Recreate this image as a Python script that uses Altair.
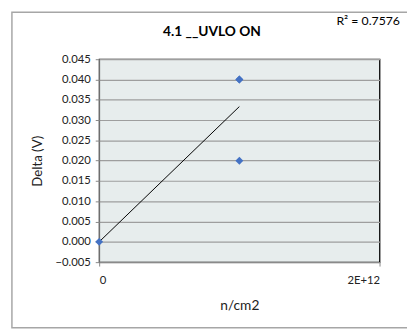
import altair as alt
import pandas as pd

# data
fluence = [0, 1e12, 1e12, 1e12]
delta = [0.0, 0.04, 0.04, 0.02]
y_ticks = [-0.005, 0.0, 0.005, 0.010, 0.015, 0.020, 0.025, 0.030, 0.035, 0.040, 0.045]
x_ticks = [0, 2e12]
title_text = "4.1 __UVLO ON"
r2_text = "R\u00b2 = 0.7576"

df = pd.DataFrame({"x": fluence, "y": delta})
FONT = "Lato"

xs = alt.X("x:Q", scale=alt.Scale(domain=[0, 2e12], nice=False, zero=False),
           axis=alt.Axis(values=x_ticks, title="n/cm2", grid=False,
                         labelExpr="datum.value == 0 ? '0' : upper(format(datum.value, '.0e'))",
                         tickSize=4, labelPadding=9, titlePadding=13,
                         titleFontSize=14, labelFontSize=11.5))
ys = alt.Y("y:Q", scale=alt.Scale(domain=[-0.005, 0.045], nice=False, zero=False),
           axis=alt.Axis(values=y_ticks, format=".3f", title="Delta (V)", grid=True,
                         tickSize=4, labelPadding=5, titlePadding=11,
                         titleFontSize=13.5, labelFontSize=11.5))

base = alt.Chart(df)

border = alt.Chart(alt.Data(values=[{}])).mark_rect(
    fill="transparent", stroke="#A6A6A6", strokeWidth=1.5
).encode(x=alt.value(-89), x2=alt.value(330), y=alt.value(-48), y2=alt.value(274))

trend = base.transform_regression("x", "y").mark_line(
    color="black", strokeWidth=1).encode(x=xs, y=ys)

points = base.mark_point(shape="diamond", filled=True, color="#4472C4",
                         size=65, opacity=1, clip=False).encode(x=xs, y=ys)

title = alt.Chart(alt.Data(values=[{}])).mark_text(
    text=title_text, font=FONT, fontSize=14, fontWeight="bold", color="#000000",
    align="center", baseline="middle"
).encode(x=alt.value(115), y=alt.value(-28))

r2 = alt.Chart(alt.Data(values=[{}])).mark_text(
    text=r2_text, font=FONT, fontSize=12.5, color="#000000",
    align="left", baseline="middle"
).encode(x=alt.value(242), y=alt.value(-39))

chart = alt.layer(trend, points, border, title, r2).properties(
    width=286, height=207,
    background="white",
    autosize=alt.AutoSizeParams(type="none"),
    padding={"left": 93, "top": 49, "right": 28, "bottom": 68},
).configure_view(
    stroke="#000000", strokeWidth=1.3, fill="#E7EDED"
).configure_axis(
    labelFont=FONT, titleFont=FONT, labelColor="#222222", titleColor="#222222",
    titleFontWeight="normal", domainColor="#868686", tickColor="#868686",
    gridColor="#9E9E9E", gridWidth=1.2
)

chart.save("out.html", embed_options={"renderer": "svg", "actions": False})
